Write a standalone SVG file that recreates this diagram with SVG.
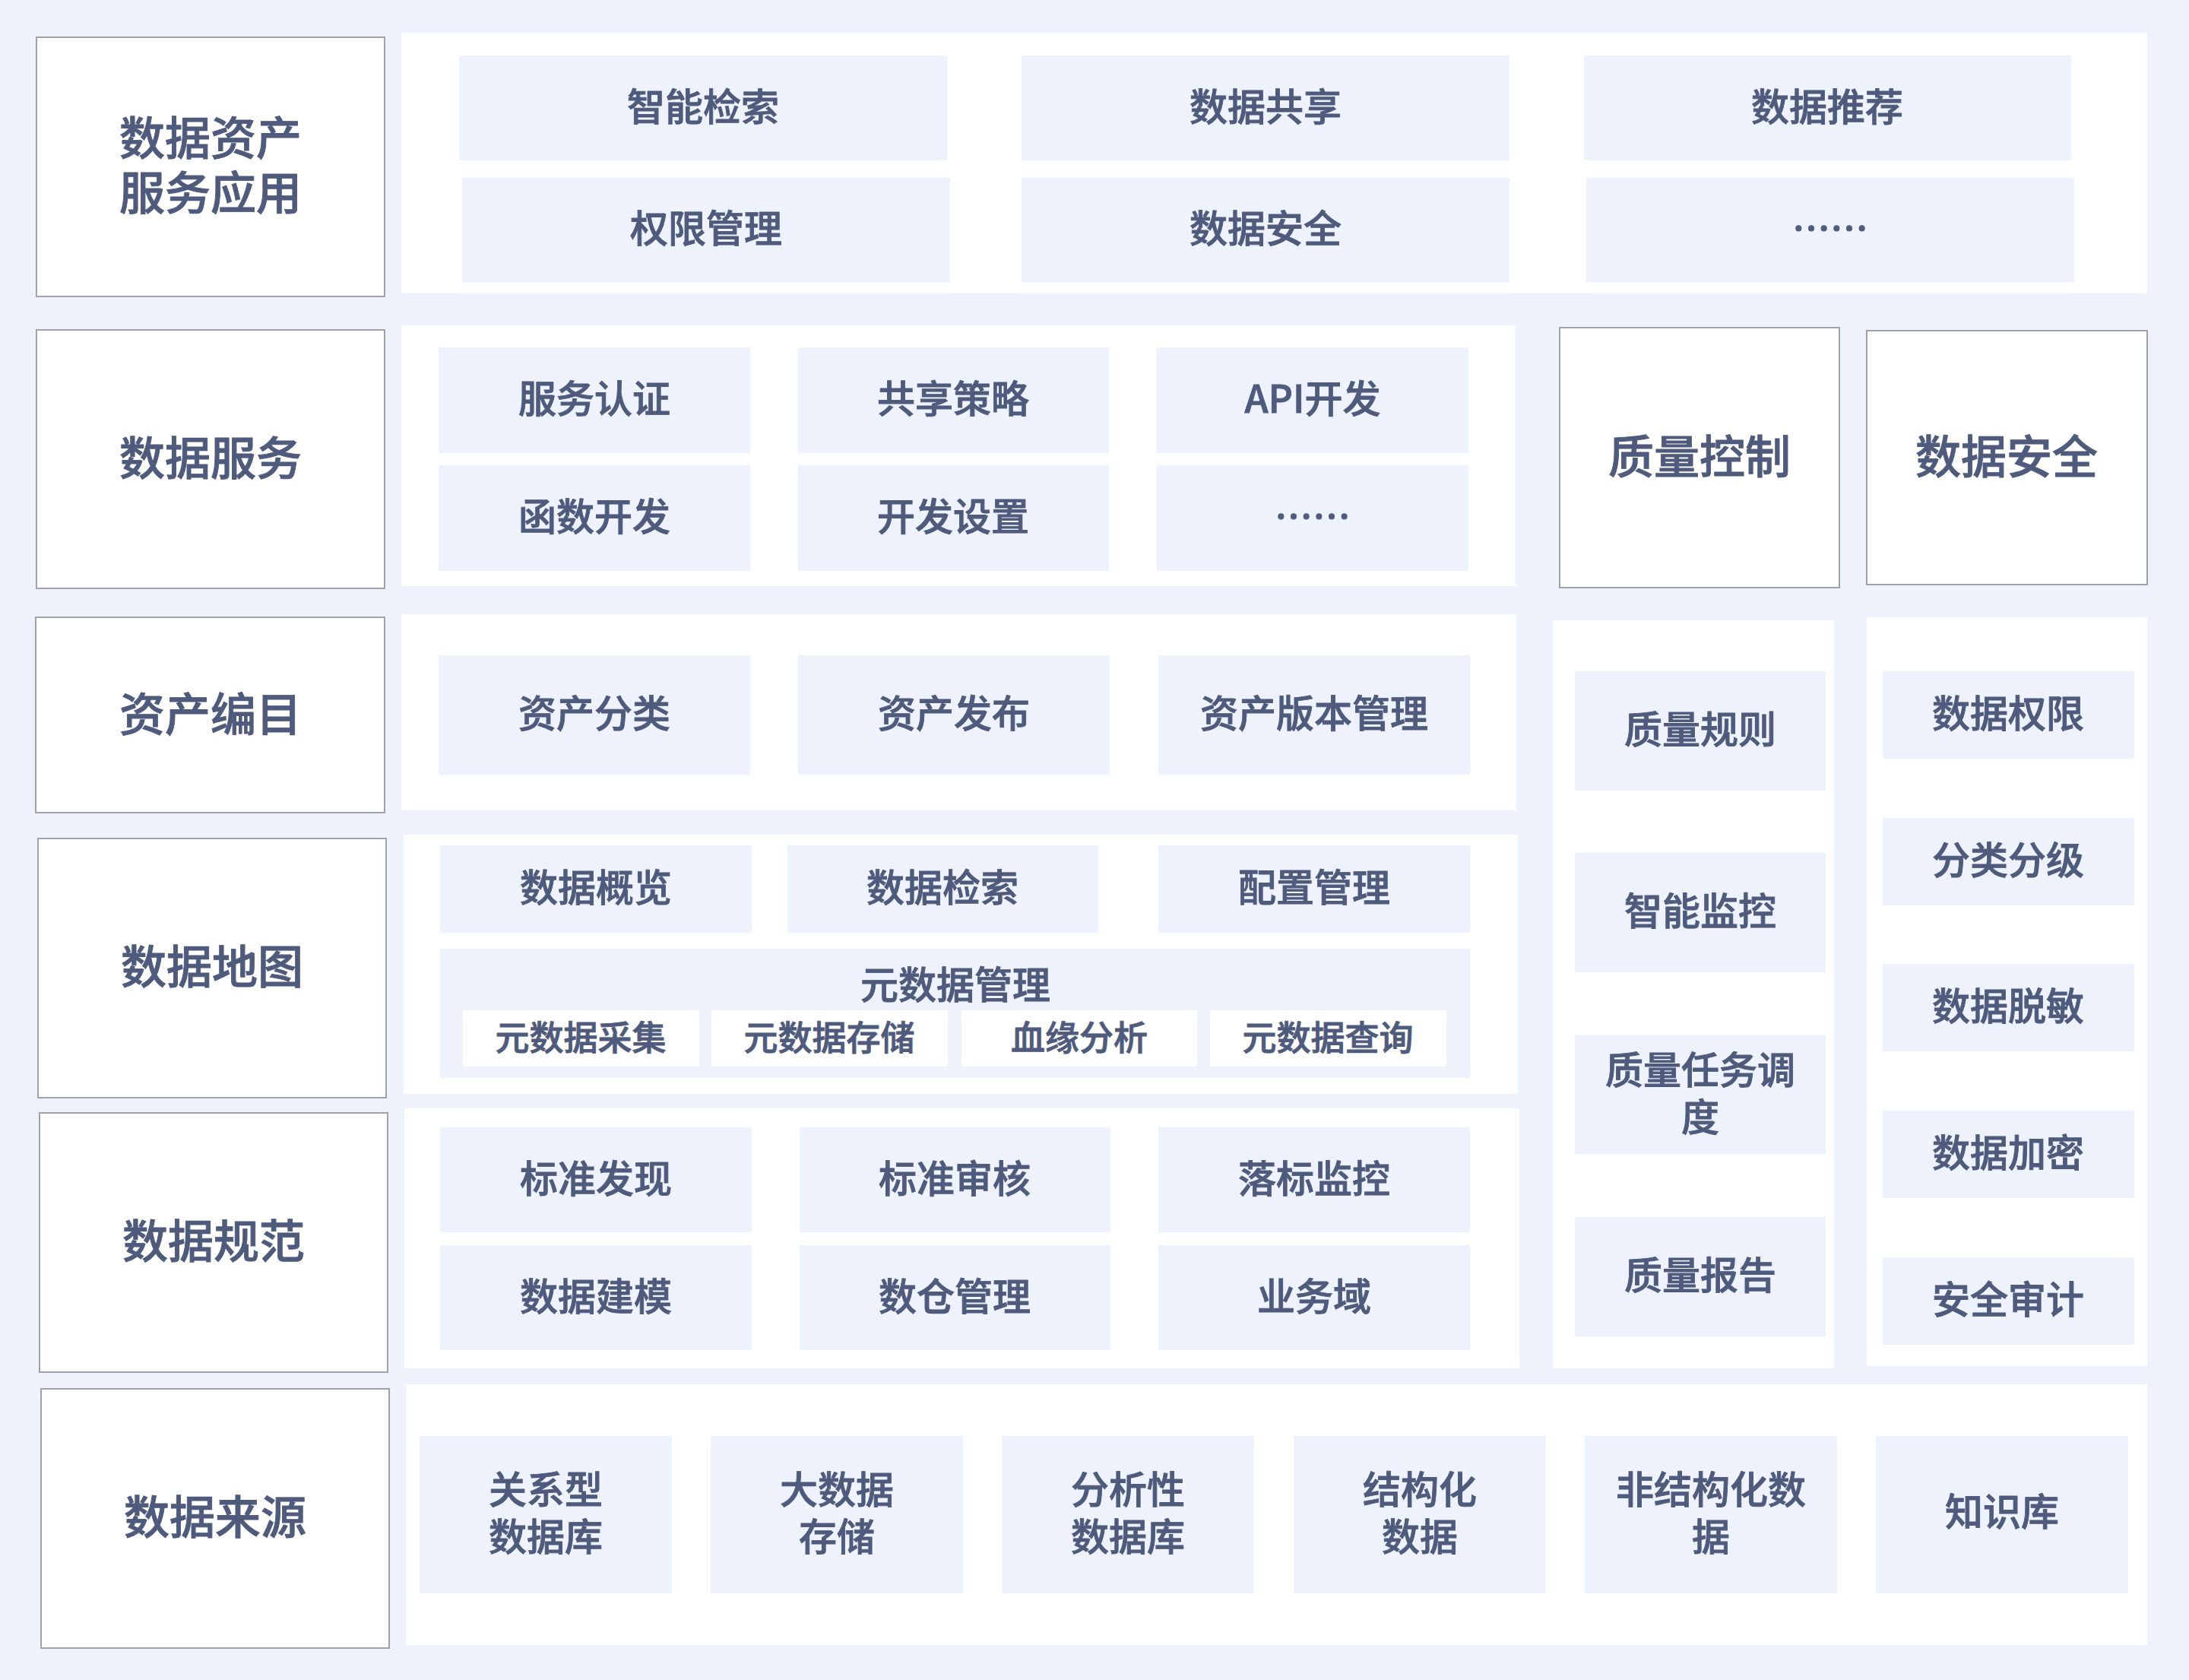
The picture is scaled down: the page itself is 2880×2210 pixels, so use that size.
<svg xmlns="http://www.w3.org/2000/svg" width="2880" height="2210" viewBox="0 0 2880 2210" xml:lang="zh-CN">
<style>
.bg{fill:#EEF2FD}
.lab{fill:#FFFFFF;stroke:#A2A2A6;stroke-width:2}
.pan{fill:#FFFFFF}
.box{fill:#EEF2FD}
.sub{fill:#FFFFFF}
text{font-family:"Noto Sans CJK SC Medium","Noto Sans CJK SC","Noto Sans",sans-serif;fill:#4F5B7D;stroke:#4F5B7D;stroke-width:0.9;font-weight:500;text-anchor:middle;dominant-baseline:central}
.t60{font-size:60px}
.t50{font-size:50px}
.t45{font-size:45px}
</style>
<rect class="bg" x="0" y="0" width="2880" height="2210"/>

<g id="panels">
<rect class="pan" x="528" y="43" width="2297" height="343"/>
<rect class="pan" x="528" y="428" width="1466" height="343"/>
<rect class="pan" x="528" y="808" width="1467" height="258"/>
<rect class="pan" x="531" y="1098" width="1466" height="341"/>
<rect class="pan" x="532" y="1458" width="1467" height="342"/>
<rect class="pan" x="534" y="1821" width="2291" height="343"/>
<rect class="pan" x="2043" y="816" width="370" height="984"/>
<rect class="pan" x="2456" y="812" width="369" height="985"/>
</g>

<g id="label-asset-service">
<rect class="lab" x="48" y="49" width="458" height="341"/>
<text class="t60" x="277" y="177">数据资产</text>
<text class="t60" x="277" y="249">服务应用</text>
</g>
<g id="label-data-service">
<rect class="lab" x="48" y="434" width="458" height="340"/>
<text class="t60" x="277" y="598">数据服务</text>
</g>
<g id="label-catalog">
<rect class="lab" x="47" y="812" width="459" height="257"/>
<text class="t60" x="277" y="935">资产编目</text>
</g>
<g id="label-map">
<rect class="lab" x="50" y="1103" width="458" height="341"/>
<text class="t60" x="279" y="1267">数据地图</text>
</g>
<g id="label-standard">
<rect class="lab" x="52" y="1464" width="458" height="341"/>
<text class="t60" x="281" y="1628">数据规范</text>
</g>
<g id="label-source">
<rect class="lab" x="54" y="1827" width="458" height="341"/>
<text class="t60" x="283" y="1991">数据来源</text>
</g>
<g id="label-quality">
<rect class="lab" x="2052" y="431" width="368" height="342"/>
<text class="t60" x="2236" y="596">质量控制</text>
</g>
<g id="label-security">
<rect class="lab" x="2456" y="435" width="369" height="334"/>
<text class="t60" x="2640" y="596">数据安全</text>
</g>

<g id="n-smart-search"><rect class="box" x="604" y="73" width="642" height="138"/><text class="t50" x="925" y="137">智能检索</text></g>
<g id="n-data-share"><rect class="box" x="1344" y="73" width="642" height="138"/><text class="t50" x="1665" y="137">数据共享</text></g>
<g id="n-data-recommend"><rect class="box" x="2084" y="73" width="641" height="138"/><text class="t50" x="2404" y="137">数据推荐</text></g>
<g id="n-permission"><rect class="box" x="608" y="234" width="642" height="137"/><text class="t50" x="929" y="297">权限管理</text></g>
<g id="n-data-safety"><rect class="box" x="1344" y="234" width="642" height="137"/><text class="t50" x="1665" y="297">数据安全</text></g>
<g id="n-more-1"><rect class="box" x="2087" y="234" width="642" height="137"/><text class="t50" x="2408" y="297">……</text></g>

<g id="n-auth"><rect class="box" x="577" y="457" width="410" height="139"/><text class="t50" x="782" y="521">服务认证</text></g>
<g id="n-share-policy"><rect class="box" x="1050" y="457" width="409" height="139"/><text class="t50" x="1254" y="521">共享策略</text></g>
<g id="n-api"><rect class="box" x="1522" y="457" width="410" height="139"/><text class="t50" x="1727" y="521">API开发</text></g>
<g id="n-func"><rect class="box" x="577" y="612" width="410" height="139"/><text class="t50" x="782" y="676">函数开发</text></g>
<g id="n-dev-set"><rect class="box" x="1050" y="612" width="409" height="139"/><text class="t50" x="1254" y="676">开发设置</text></g>
<g id="n-more-2"><rect class="box" x="1522" y="612" width="410" height="139"/><text class="t50" x="1727" y="676">……</text></g>

<g id="n-asset-class"><rect class="box" x="577" y="862" width="410" height="157"/><text class="t50" x="782" y="935">资产分类</text></g>
<g id="n-asset-pub"><rect class="box" x="1050" y="862" width="410" height="157"/><text class="t50" x="1255" y="935">资产发布</text></g>
<g id="n-asset-ver"><rect class="box" x="1524" y="862" width="410" height="157"/><text class="t50" x="1729" y="935">资产版本管理</text></g>

<g id="n-overview"><rect class="box" x="579" y="1112" width="410" height="115"/><text class="t50" x="784" y="1164">数据概览</text></g>
<g id="n-data-search"><rect class="box" x="1036" y="1112" width="409" height="115"/><text class="t50" x="1240" y="1164">数据检索</text></g>
<g id="n-config"><rect class="box" x="1524" y="1112" width="410" height="115"/><text class="t50" x="1729" y="1164">配置管理</text></g>
<g id="n-meta">
<rect class="box" x="579" y="1248" width="1355" height="170"/>
<text class="t50" x="1257" y="1292">元数据管理</text>
<rect class="sub" x="609" y="1329" width="311" height="74"/><text class="t45" x="764" y="1362">元数据采集</text>
<rect class="sub" x="936" y="1329" width="311" height="74"/><text class="t45" x="1091" y="1362">元数据存储</text>
<rect class="sub" x="1265" y="1329" width="310" height="74"/><text class="t45" x="1420" y="1362">血缘分析</text>
<rect class="sub" x="1592" y="1329" width="311" height="74"/><text class="t45" x="1747" y="1362">元数据查询</text>
</g>

<g id="n-std-find"><rect class="box" x="579" y="1483" width="410" height="138"/><text class="t50" x="784" y="1547">标准发现</text></g>
<g id="n-std-review"><rect class="box" x="1052" y="1483" width="409" height="138"/><text class="t50" x="1256" y="1547">标准审核</text></g>
<g id="n-std-monitor"><rect class="box" x="1524" y="1483" width="410" height="138"/><text class="t50" x="1729" y="1547">落标监控</text></g>
<g id="n-modeling"><rect class="box" x="579" y="1638" width="410" height="138"/><text class="t50" x="784" y="1702">数据建模</text></g>
<g id="n-dw"><rect class="box" x="1052" y="1638" width="409" height="138"/><text class="t50" x="1256" y="1702">数仓管理</text></g>
<g id="n-domain"><rect class="box" x="1524" y="1638" width="410" height="138"/><text class="t50" x="1729" y="1702">业务域</text></g>

<g id="n-q-rule"><rect class="box" x="2072" y="883" width="330" height="157"/><text class="t50" x="2237" y="956">质量规则</text></g>
<g id="n-q-monitor"><rect class="box" x="2072" y="1122" width="330" height="157"/><text class="t50" x="2237" y="1195">智能监控</text></g>
<g id="n-q-task"><rect class="box" x="2072" y="1362" width="330" height="156"/><text class="t50" x="2237" y="1404">质量任务调</text><text class="t50" x="2237" y="1466">度</text></g>
<g id="n-q-report"><rect class="box" x="2072" y="1601" width="330" height="157"/><text class="t50" x="2237" y="1674">质量报告</text></g>

<g id="n-s-perm"><rect class="box" x="2477" y="883" width="331" height="115"/><text class="t50" x="2642" y="935">数据权限</text></g>
<g id="n-s-class"><rect class="box" x="2477" y="1076" width="331" height="115"/><text class="t50" x="2642" y="1128">分类分级</text></g>
<g id="n-s-mask"><rect class="box" x="2477" y="1268" width="331" height="115"/><text class="t50" x="2642" y="1320">数据脱敏</text></g>
<g id="n-s-enc"><rect class="box" x="2477" y="1461" width="331" height="115"/><text class="t50" x="2642" y="1513">数据加密</text></g>
<g id="n-s-audit"><rect class="box" x="2477" y="1654" width="331" height="115"/><text class="t50" x="2642" y="1706">安全审计</text></g>

<g id="n-rdb"><rect class="box" x="552" y="1889" width="332" height="207"/><text class="t50" x="718" y="1956">关系型</text><text class="t50" x="718" y="2018">数据库</text></g>
<g id="n-bigdata"><rect class="box" x="935" y="1889" width="332" height="207"/><text class="t50" x="1101" y="1956">大数据</text><text class="t50" x="1101" y="2018">存储</text></g>
<g id="n-olap"><rect class="box" x="1318" y="1889" width="332" height="207"/><text class="t50" x="1484" y="1956">分析性</text><text class="t50" x="1484" y="2018">数据库</text></g>
<g id="n-struct"><rect class="box" x="1702" y="1889" width="332" height="207"/><text class="t50" x="1868" y="1956">结构化</text><text class="t50" x="1868" y="2018">数据</text></g>
<g id="n-unstruct"><rect class="box" x="2085" y="1889" width="332" height="207"/><text class="t50" x="2251" y="1956">非结构化数</text><text class="t50" x="2251" y="2018">据</text></g>
<g id="n-kb"><rect class="box" x="2468" y="1889" width="332" height="207"/><text class="t50" x="2634" y="1985">知识库</text></g>

<g id="connectors"></g>
</svg>
